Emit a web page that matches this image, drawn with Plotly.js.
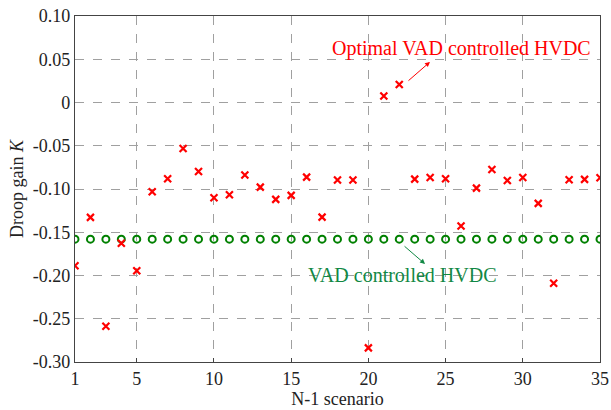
<!DOCTYPE html>
<html>
<head>
<meta charset="utf-8">
<script src="https://cdn.plot.ly/plotly-3.0.1.min.js"></script>
<style>html,body{margin:0;padding:0;background:#fff;}#chart{width:611px;height:410px;}</style>
</head>
<body>
<div id="chart"></div>
<script>
const scenarios = Array.from({length: 35}, (_, i) => i + 1);
const optimalK = [-0.1887, -0.1328, -0.2587, -0.1628, -0.1944, -0.1032, -0.0882, -0.0531, -0.0797, -0.1101,
                  -0.1067, -0.0839, -0.0978, -0.1120, -0.1074, -0.0863, -0.1325, -0.0897, -0.0897, -0.2837,
                   0.0076,  0.0208, -0.0886, -0.0866, -0.0882, -0.1428, -0.0990, -0.0774, -0.0901, -0.0866,
                  -0.1166, -0.2090, -0.0893, -0.0889, -0.0870];
const vadK = scenarios.map(() => -0.158);
const xTicks = [1, 5, 10, 15, 20, 25, 30, 35];
const yTicks = [0.10, 0.05, 0, -0.05, -0.10, -0.15, -0.20, -0.25, -0.30];
const yTickText = ['0.10', '0.05', '0', '-0.05', '-0.10', '-0.15', '-0.20', '-0.25', '-0.30'];

const font = 'Times New Roman, Liberation Serif, DejaVu Serif, serif';
const axisColor = '#444';

const traces = [
  {x: scenarios, y: vadK, mode: 'markers', type: 'scatter', name: 'VAD controlled HVDC',
   marker: {symbol: 'circle-open', size: 7, color: '#008000', line: {width: 2, color: '#008000'}}},
  {x: scenarios, y: optimalK, mode: 'markers', type: 'scatter', name: 'Optimal VAD controlled HVDC',
   marker: {symbol: 'x-thin-open', size: 7, color: '#ff0000', line: {width: 2.2, color: '#ff0000'}}}
];

const layout = {
  width: 611, height: 410,
  margin: {l: 75, r: 11, t: 16, b: 48},
  paper_bgcolor: '#fff', plot_bgcolor: '#fff',
  showlegend: false,
  font: {family: font, size: 18, color: '#222'},
  xaxis: {
    range: [1, 35], tickvals: xTicks, ticktext: xTicks.map(String),
    ticks: 'inside', ticklen: 4, tickcolor: axisColor,
    showline: true, mirror: true, linecolor: axisColor, linewidth: 1.2,
    showgrid: true, gridcolor: '#a0a0a0', griddash: 'dash', gridwidth: 1,
    zeroline: false,
    tickfont: {family: font, size: 18, color: '#222'},
    title: {text: 'N-1 scenario', font: {family: font, size: 18, color: '#222'}, standoff: 2}
  },
  yaxis: {
    range: [-0.30, 0.10], tickvals: yTicks, ticktext: yTickText,
    ticks: '', showline: true, mirror: true, linecolor: axisColor, linewidth: 1.2,
    showgrid: true, gridcolor: '#a0a0a0', griddash: 'dash', gridwidth: 1,
    zeroline: false,
    tickfont: {family: font, size: 18, color: '#222'},
    title: {text: 'Droop gain <i>K</i>', font: {family: font, size: 18, color: '#222'}, standoff: 4}
  },
  annotations: [
    {x: 26.05, y: 0.0625, xref: 'x', yref: 'y', text: 'Optimal VAD controlled HVDC', showarrow: false,
     font: {family: font, size: 20, color: '#ff0000'}},
    {x: 23.99, y: 0.0469, xref: 'x', yref: 'y', ax: -23, ay: 20, text: '', showarrow: true,
     arrowhead: 2, arrowsize: 1, arrowwidth: 1, arrowcolor: '#ff0000'},
    {x: 22.2, y: -0.1997, xref: 'x', yref: 'y', text: 'VAD controlled HVDC', showarrow: false,
     font: {family: font, size: 20, color: '#118844'}},
    {x: 23.67, y: -0.1867, xref: 'x', yref: 'y', ax: -22, ay: -19, text: '', showarrow: true,
     arrowhead: 2, arrowsize: 1, arrowwidth: 1, arrowcolor: '#118844'}
  ]
};

Plotly.newPlot('chart', traces, layout, {displayModeBar: false, staticPlot: true});
</script>
</body>
</html>
